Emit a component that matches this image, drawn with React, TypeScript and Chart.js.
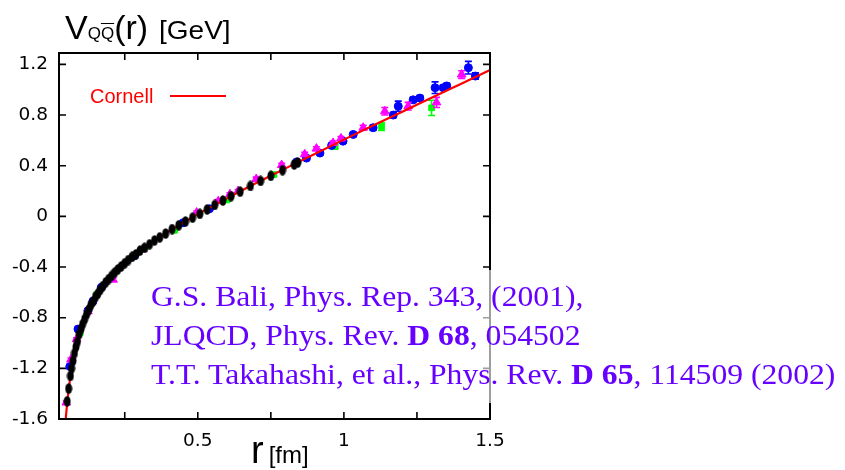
import { useEffect, useRef } from "react";
import { Chart, registerables } from "chart.js";
Chart.register(...registerables);

// Axis ticks
const xTicks = [0.25, 0.5, 0.75, 1, 1.25, 1.5];
const xTickLabels = ["", "0.5", "", "1", "", "1.5"];
const yTicks = [-1.6, -1.2, -0.8, -0.4, 0, 0.4, 0.8, 1.2];
const yTickLabels = ["-1.6", "-1.2", "-0.8", "-0.4", "0", "0.4", "0.8", "1.2"];

// Cornell fit curve
const cornellR = [0.048, 0.052, 0.056, 0.062, 0.07, 0.08, 0.09, 0.1, 0.12, 0.14, 0.17, 0.2, 0.25, 0.3, 0.4, 0.5, 0.6, 0.7, 0.8, 0.9, 1.0, 1.1, 1.2, 1.3, 1.4, 1.5];
const cornellV = [-1.6, -1.499, -1.411, -1.301, -1.181, -1.062, -0.968, -0.89, -0.768, -0.675, -0.567, -0.482, -0.369, -0.275, -0.119, 0.017, 0.142, 0.263, 0.379, 0.493, 0.606, 0.717, 0.827, 0.937, 1.046, 1.155];

// Black lattice points
const blackR = [0.053, 0.058, 0.064, 0.068, 0.073, 0.078, 0.083, 0.088, 0.094, 0.1, 0.106, 0.113, 0.12, 0.127, 0.134, 0.142, 0.15, 0.158, 0.166, 0.175, 0.185, 0.195, 0.205, 0.215, 0.226, 0.238, 0.25, 0.262, 0.275, 0.288, 0.302, 0.318, 0.335, 0.352, 0.37, 0.39, 0.412, 0.435, 0.458, 0.482, 0.507, 0.532, 0.558, 0.586, 0.614, 0.645, 0.68, 0.715, 0.75, 0.79, 0.83, 0.842];
const blackV = [-1.46, -1.36, -1.26, -1.2, -1.14, -1.08, -1.03, -0.99, -0.93, -0.89, -0.85, -0.81, -0.77, -0.735, -0.7, -0.67, -0.635, -0.61, -0.58, -0.55, -0.52, -0.495, -0.47, -0.445, -0.42, -0.395, -0.37, -0.345, -0.32, -0.3, -0.27, -0.248, -0.22, -0.19, -0.165, -0.135, -0.1, -0.07, -0.04, -0.01, 0.02, 0.055, 0.09, 0.125, 0.16, 0.195, 0.24, 0.28, 0.32, 0.365, 0.41, 0.425];

// Magenta points
const magentaR = [0.05, 0.066, 0.085, 0.124, 0.21, 0.312, 0.496, 0.57, 0.61, 0.638, 0.7, 0.787, 0.866, 0.906, 0.963, 0.99, 1.066, 1.14, 1.22, 1.317, 1.403];
const magentaV = [-1.47, -1.13, -0.97, -0.75, -0.5, -0.26, 0.03, 0.12, 0.175, 0.2, 0.295, 0.405, 0.49, 0.535, 0.58, 0.615, 0.7, 0.83, 0.87, 0.9, 1.12];
const magentaErr = [0.012, 0.012, 0.012, 0.012, 0.012, 0.012, 0.012, 0.012, 0.012, 0.012, 0.015, 0.015, 0.015, 0.015, 0.015, 0.015, 0.02, 0.03, 0.03, 0.04, 0.03];

// Blue points
const blueR = [0.062, 0.09, 0.124, 0.141, 0.17, 0.284, 0.45, 0.54, 0.838, 0.872, 0.918, 0.958, 0.997, 1.032, 1.1, 1.169, 1.186, 1.237, 1.26, 1.312, 1.34, 1.352, 1.426, 1.45];
const blueV = [-1.185, -0.89, -0.745, -0.67, -0.56, -0.31, -0.05, 0.06, 0.43, 0.46, 0.5, 0.56, 0.594, 0.647, 0.7, 0.8, 0.87, 0.92, 0.934, 1.016, 1.016, 1.03, 1.174, 1.108];
const blueErr = [0.01, 0.01, 0.01, 0.01, 0.01, 0.01, 0.01, 0.01, 0.015, 0.015, 0.015, 0.015, 0.015, 0.015, 0.02, 0.02, 0.04, 0.02, 0.02, 0.046, 0.02, 0.02, 0.05, 0.025];

// Green points
const greenR = [0.097, 0.153, 0.278, 0.318, 0.42, 0.6, 0.76, 0.97, 1.129, 1.3];
const greenV = [-0.92, -0.62, -0.32, -0.25, -0.11, 0.13, 0.33, 0.55, 0.708, 0.857];
const greenErr = [0.01, 0.01, 0.01, 0.01, 0.01, 0.01, 0.012, 0.015, 0.03, 0.06];

const toXY = (xs: number[], ys: number[]) => xs.map((x, i) => ({ x, y: ys[i] }));

const framePlugin = {
  id: "frame",
  afterDatasetsDraw(chart: any) {
    const { ctx, chartArea: a, scales } = chart;
    ctx.save();
    ctx.strokeStyle = "#000";
    ctx.lineWidth = 2;
    ctx.strokeRect(a.left, a.top, a.right - a.left, a.bottom - a.top);
    ctx.lineWidth = 1.6;
    const tl = 7;
    ctx.beginPath();
    xTicks.forEach((v) => {
      const px = scales.x.getPixelForValue(v);
      ctx.moveTo(px, a.bottom);
      ctx.lineTo(px, a.bottom - tl);
      ctx.moveTo(px, a.top);
      ctx.lineTo(px, a.top + tl);
    });
    yTicks.forEach((v) => {
      const py = scales.y.getPixelForValue(v);
      ctx.moveTo(a.left, py);
      ctx.lineTo(a.left + tl, py);
      ctx.moveTo(a.right, py);
      ctx.lineTo(a.right - tl, py);
    });
    ctx.stroke();
    ctx.restore();
  },
};

const errorBarPlugin = {
  id: "errbars",
  afterDatasetDraw(chart: any, args: any) {
    const ds = chart.data.datasets[args.index];
    const errs: number[] | undefined = ds.errorBars;
    if (!errs) return;
    const y = chart.scales.y;
    const ctx = chart.ctx;
    ctx.save();
    ctx.strokeStyle = ds.borderColor;
    ctx.lineWidth = 1.6;
    args.meta.data.forEach((pt: any, i: number) => {
      const d = ds.data[i];
      const e = errs[i];
      const top = y.getPixelForValue(d.y + e);
      const bot = y.getPixelForValue(d.y - e);
      const px = pt.x;
      ctx.beginPath();
      ctx.moveTo(px, top);
      ctx.lineTo(px, bot);
      ctx.moveTo(px - 3.5, top);
      ctx.lineTo(px + 3.5, top);
      ctx.moveTo(px - 3.5, bot);
      ctx.lineTo(px + 3.5, bot);
      ctx.stroke();
    });
    ctx.restore();
  },
};

export default function App() {
  const ref = useRef<HTMLCanvasElement>(null);
  useEffect(() => {
    if (!ref.current) return;
    const ell = document.createElement("canvas");
    ell.width = 8;
    ell.height = 11;
    const ec = ell.getContext("2d")!;
    ec.fillStyle = "#000";
    ec.beginPath();
    ec.ellipse(4, 5.5, 3.5, 5.2, 0, 0, Math.PI * 2);
    ec.fill();

    const tickFont = { family: '"DejaVu Sans", sans-serif', size: 18.5 };
    const chart = new Chart(ref.current, {
      type: "scatter",
      data: {
        datasets: [
          {
            label: "black",
            data: toXY(blackR, blackV),
            pointStyle: ell as any,
            backgroundColor: "#000",
            borderColor: "#000",
            order: 0,
          } as any,
          {
            label: "Cornell",
            data: toXY(cornellR, cornellV),
            showLine: true,
            borderColor: "#ff0000",
            backgroundColor: "#ff0000",
            borderWidth: 2.2,
            pointRadius: 0,
            cubicInterpolationMode: "monotone",
            order: 1,
          } as any,
          {
            label: "magenta",
            data: toXY(magentaR, magentaV),
            errorBars: magentaErr,
            pointStyle: "triangle",
            pointRadius: 5,
            backgroundColor: "#ff00ff",
            borderColor: "#ff00ff",
            borderWidth: 1,
            order: 2,
          } as any,
          {
            label: "blue",
            data: toXY(blueR, blueV),
            errorBars: blueErr,
            pointStyle: "circle",
            pointRadius: 4,
            backgroundColor: "#0000ff",
            borderColor: "#0000ff",
            borderWidth: 1,
            order: 3,
          } as any,
          {
            label: "green",
            data: toXY(greenR, greenV),
            errorBars: greenErr,
            pointStyle: "rect",
            pointRadius: 4,
            backgroundColor: "#00ff00",
            borderColor: "#00ff00",
            borderWidth: 1,
            order: 4,
          } as any,
        ],
      },
      options: {
        animation: false,
        responsive: false,
        devicePixelRatio: 1,
        layout: { padding: { top: 53, right: 355, left: 0, bottom: 0 } },
        plugins: { legend: { display: false }, tooltip: { enabled: false } },
        scales: {
          x: {
            type: "linear",
            min: 0.025,
            max: 1.5,
            grid: { display: false, drawTicks: false },
            border: { display: false },
            afterBuildTicks: (s: any) => {
              s.ticks = xTicks.map((v) => ({ value: v }));
            },
            afterFit: (s: any) => {
              s.height = 51;
            },
            ticks: {
              autoSkip: false,
              maxRotation: 0,
              padding: 11,
              color: "#000",
              font: tickFont,
              callback: (_v: any, i: number) => xTickLabels[i],
            },
          },
          y: {
            type: "linear",
            min: -1.6,
            max: 1.29,
            grid: { display: false, drawTicks: false },
            border: { display: false },
            afterBuildTicks: (s: any) => {
              s.ticks = yTicks.map((v) => ({ value: v }));
            },
            afterFit: (s: any) => {
              s.width = 59;
            },
            ticks: {
              autoSkip: false,
              padding: 11,
              color: "#000",
              font: tickFont,
              callback: (_v: any, i: number) => yTickLabels[i],
            },
          },
        },
      } as any,
      plugins: [errorBarPlugin, framePlugin],
    });
    return () => chart.destroy();
  }, []);

  const sans = '"Liberation Sans", Arial, Helvetica, sans-serif';
  return (
    <div style={{ position: "fixed", left: 0, top: 0, width: 845, height: 470, background: "#fff", overflow: "hidden" }}>
      <canvas ref={ref} width={845} height={470} style={{ position: "absolute", left: 0, top: 0, width: 845, height: 470 }} />
      <div style={{ position: "absolute", left: 65, top: 10, fontFamily: sans, lineHeight: 1, whiteSpace: "nowrap", color: "#000" }}>
        <span style={{ fontSize: 34 }}>V</span>
        <span style={{ fontSize: 17 }}>
          Q<span style={{ textDecoration: "overline" }}>Q</span>
        </span>
        <span style={{ fontSize: 34 }}>(r)</span>
        <span style={{ fontSize: 25, marginLeft: 11, display: "inline-block", transform: "scaleX(1.12)", transformOrigin: "left" }}>[GeV]</span>
      </div>
      <div style={{ position: "absolute", left: 90, top: 86, fontFamily: sans, fontSize: 20, lineHeight: 1, color: "#ff0000", whiteSpace: "nowrap" }}>
        Cornell
      </div>
      <div style={{ position: "absolute", left: 170, top: 95, width: 56, height: 2, background: "#ff0000" }} />
      <div style={{ position: "absolute", left: 251, top: 431, fontFamily: sans, lineHeight: 1, whiteSpace: "nowrap", color: "#000" }}>
        <span style={{ fontSize: 38 }}>r</span>
        <span style={{ fontSize: 24, marginLeft: 5 }}>[fm]</span>
      </div>
      <div style={{ position: "absolute", left: 146, top: 270, width: 699, height: 133, background: "rgba(255,255,255,0.62)" }} />
      <div
        style={{
          position: "absolute",
          left: 151,
          top: 277,
          fontFamily: '"Liberation Serif", "Times New Roman", serif',
          fontSize: 28.5,
          lineHeight: "39px",
          color: "#6600ff",
          whiteSpace: "nowrap",
          transform: "scaleX(1.11)",
          transformOrigin: "left top",
        }}
      >
        <div>G.S. Bali, Phys. Rep. 343, (2001),</div>
        <div>
          JLQCD, Phys. Rev. <b>D 68</b>, 054502
        </div>
        <div>
          T.T. Takahashi, et al., Phys. Rev. <b>D 65</b>, 114509 (2002)
        </div>
      </div>
    </div>
  );
}
